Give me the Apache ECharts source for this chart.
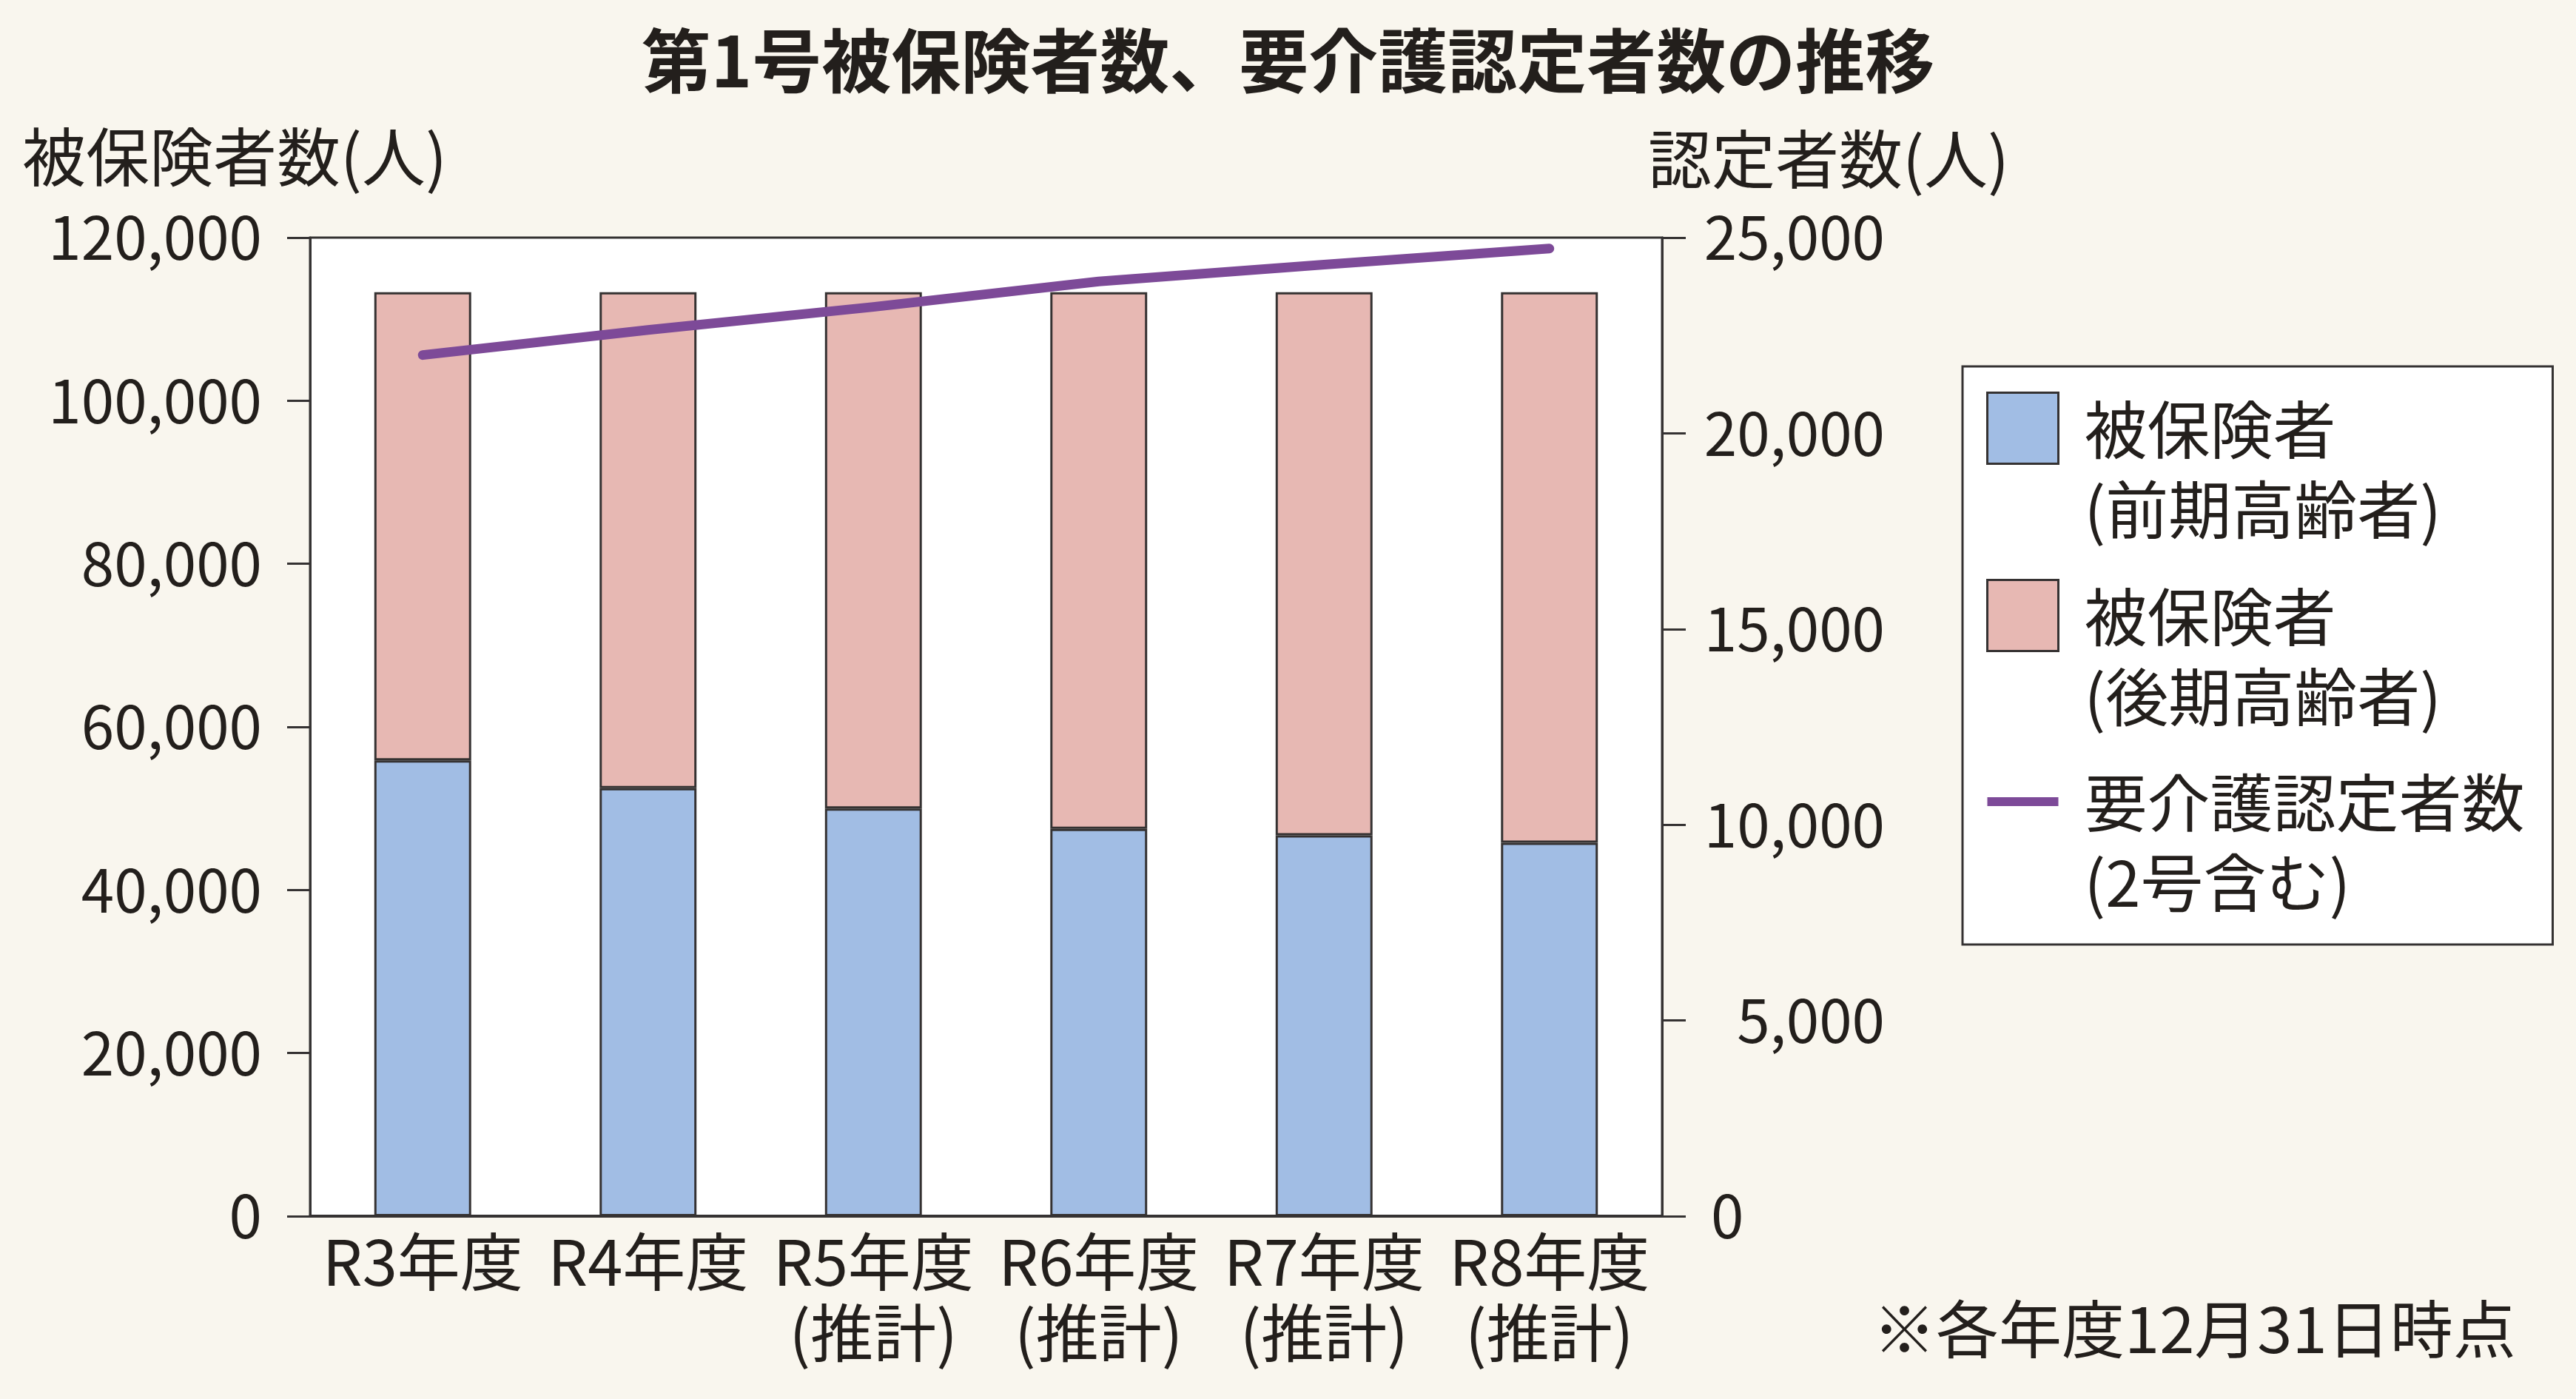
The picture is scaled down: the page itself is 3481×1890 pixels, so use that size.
<!DOCTYPE html>
<html lang="ja">
<head>
<meta charset="utf-8">
<script src="https://cdn.jsdelivr.net/npm/echarts@6/dist/echarts.min.js"></script>
<style>
html,body{margin:0;padding:0;background:#f9f6ee;}
#chart{width:3481px;height:1890px;}
</style>
</head>
<body>
<div id="chart"></div>
<script>
// ---- data ----
const categories = ['R3年度', 'R4年度', 'R5年度\n(推計)', 'R6年度\n(推計)', 'R7年度\n(推計)', 'R8年度\n(推計)'];
const seriesNames = ['被保険者\n(前期高齢者)', '被保険者\n(後期高齢者)', '要介護認定者数\n(2号含む)'];
const earlyElderly = [55900, 52500, 50000, 47500, 46700, 45800];
const lateElderly = [57400, 60800, 63300, 65800, 66600, 67500];
const certified = [22000, 22640, 23230, 23880, 24310, 24720];
const leftAxisMax = 120000, leftAxisStep = 20000;
const rightAxisMax = 25000, rightAxisStep = 5000;
const titleText = '第1号被保険者数、要介護認定者数の推移';
const leftAxisTitle = '被保険者数(人)';
const rightAxisTitle = '認定者数(人)';
const noteText = '※各年度12月31日時点';

// ---- styles ----
const FONT = '"Noto Sans CJK JP", "Noto Sans", sans-serif';
const INK = '#231f1c';
const EDGE = '#353232';
const BLUE = '#a1bde4';
const PINK = '#e7b8b3';
const PURPLE = '#7d4a98';

function commas(v) { return String(v).replace(/\B(?=(\d{3})+(?!\d))/g, ','); }

const chart = echarts.init(document.getElementById('chart'), null, {renderer: 'canvas'});
chart.setOption({
  backgroundColor: '#f9f6ee',
  animation: false,
  textStyle: {fontFamily: FONT, color: INK},
  title: [
    {text: titleText, left: 'center', top: 32, padding: 0,
     textStyle: {fontFamily: FONT, fontSize: 94, fontWeight: 'bold', color: INK, lineHeight: 100}},
    {text: leftAxisTitle, left: 30, top: 162, padding: 0,
     textStyle: {fontFamily: FONT, fontSize: 86, fontWeight: 'normal', color: INK, lineHeight: 100}},
    {text: rightAxisTitle, left: 2227, top: 165, padding: 0,
     textStyle: {fontFamily: FONT, fontSize: 86, fontWeight: 'normal', color: INK, lineHeight: 100}},
    {text: noteText, left: 2531, top: 1746, padding: 0,
     textStyle: {fontFamily: FONT, fontSize: 85, fontWeight: 'normal', color: INK, lineHeight: 100}}
  ],
  grid: {
    left: 419, right: 1235, top: 321, bottom: 247,
    show: true, backgroundColor: '#ffffff', borderColor: EDGE, borderWidth: 3
  },
  legend: {
    orient: 'vertical',
    left: 2652, top: 495,
    padding: [30, 33, 29, 32],
    itemGap: 34,
    itemWidth: 96, itemHeight: 216,
    backgroundColor: '#ffffff', borderColor: EDGE, borderWidth: 3, borderRadius: 0,
    selectedMode: false,
    textStyle: {fontFamily: FONT, fontSize: 85, color: INK, lineHeight: 108, padding: [0, 0, 0, 30], width: 600},
    data: [
      {name: seriesNames[0], icon: 'path://M0,4h96v96h-96zM0,0M96,216',
       itemStyle: {color: BLUE, borderColor: EDGE, borderWidth: 3}},
      {name: seriesNames[1], icon: 'path://M0,4h96v96h-96zM0,0M96,216',
       itemStyle: {color: PINK, borderColor: EDGE, borderWidth: 3}},
      {name: seriesNames[2], icon: 'path://M0,46h96v12h-96zM0,0M96,216',
       itemStyle: {color: PURPLE, borderWidth: 0}}
    ]
  },
  xAxis: {
    type: 'category',
    data: categories,
    axisLine: {show: true, lineStyle: {color: EDGE, width: 4}},
    axisTick: {show: false},
    splitLine: {show: false},
    axisLabel: {fontFamily: FONT, fontSize: 85, lineHeight: 96, color: INK, margin: 14, interval: 0}
  },
  yAxis: [
    {
      type: 'value', min: 0, max: leftAxisMax, interval: leftAxisStep,
      axisLine: {show: true, lineStyle: {color: EDGE, width: 3}},
      axisTick: {show: true, length: 31, lineStyle: {color: EDGE, width: 3}},
      splitLine: {show: false},
      axisLabel: {fontFamily: FONT, fontSize: 80, color: INK, margin: 65, formatter: v => commas(v)}
    },
    {
      type: 'value', min: 0, max: rightAxisMax, interval: rightAxisStep,
      position: 'right',
      axisLine: {show: true, lineStyle: {color: EDGE, width: 3}},
      axisTick: {show: true, length: 32, lineStyle: {color: EDGE, width: 3}},
      splitLine: {show: false},
      axisLabel: {
        fontFamily: FONT, fontSize: 80, color: INK, margin: 301, align: 'right',
        formatter: v => v === 0 ? '{z|0}' : commas(v),
        rich: {z: {width: 235, align: 'left', fontSize: 80, fontFamily: FONT, color: INK}}
      }
    }
  ],
  series: [
    {
      name: seriesNames[0], type: 'bar', stack: 'ins', yAxisIndex: 0,
      barWidth: '43%', data: earlyElderly,
      itemStyle: {color: BLUE, borderColor: EDGE, borderWidth: 3}
    },
    {
      name: seriesNames[1], type: 'bar', stack: 'ins', yAxisIndex: 0,
      barWidth: '43%', data: lateElderly,
      itemStyle: {color: PINK, borderColor: EDGE, borderWidth: 3}
    },
    {
      name: seriesNames[2], type: 'line', yAxisIndex: 1, z: 5,
      data: certified, symbol: 'none', smooth: false,
      itemStyle: {color: PURPLE},
      lineStyle: {color: PURPLE, width: 13, cap: 'round', join: 'round'}
    }
  ]
});
</script>
</body>
</html>
